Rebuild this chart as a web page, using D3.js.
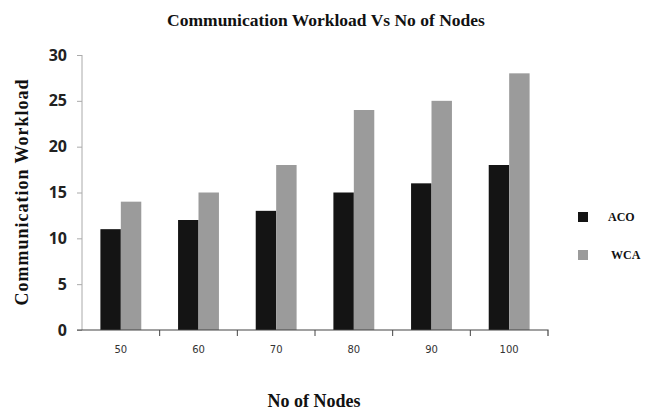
<!DOCTYPE html>
<html>
<head>
<meta charset="utf-8">
<script src="https://cdn.jsdelivr.net/npm/d3@7/dist/d3.min.js"></script>
<style>
  body { margin: 0; background: #fff; }
  .serif { font-family: "Liberation Serif", "DejaVu Serif", serif; }
</style>
</head>
<body>
<div id="chart"></div>
<script>

var nodes = ["50", "60", "70", "80", "90", "100"];
var series = ["ACO", "WCA"];
var aco = [11, 12, 13, 15, 16, 18];
var wca = [14, 15, 18, 24, 25, 28];
var yTicks = [0, 5, 10, 15, 20, 25, 30];
var colors = ["#141414", "#9b9b9b"];

var width = 651, height = 414;
var plotLeft = 82, plotRight = 548, plotTop = 55, plotBottom = 330;

var svg = d3.select("#chart").append("svg")
    .attr("width", width)
    .attr("height", height);

var x = d3.scaleBand()
    .domain(nodes)
    .range([plotLeft, plotRight])
    .paddingInner(0)
    .paddingOuter(0);

var x1 = d3.scaleBand()
    .domain(series)
    .range([0, x.bandwidth()])
    .paddingOuter(0.9);

var y = d3.scaleLinear()
    .domain([0, 30])
    .range([plotBottom, plotTop]);

// bars
var rows = nodes.map(function(n, i) {
    return {node: n, values: [aco[i], wca[i]]};
});

var groups = svg.append("g").selectAll("g")
    .data(rows)
    .enter().append("g")
    .attr("transform", function(d) { return "translate(" + x(d.node) + ",0)"; });

groups.selectAll("rect")
    .data(function(d) { return d.values.map(function(v, j) { return {key: series[j], value: v, j: j}; }); })
    .enter().append("rect")
    .attr("x", function(d) { return x1(d.key); })
    .attr("width", x1.bandwidth())
    .attr("y", function(d) { return y(d.value); })
    .attr("height", function(d) { return plotBottom - y(d.value); })
    .attr("fill", function(d) { return colors[d.j]; });

// y axis
var yAxis = svg.append("g")
    .attr("transform", "translate(" + plotLeft + ",0)")
    .call(d3.axisLeft(y).tickValues(yTicks).tickSize(5).tickPadding(10));
yAxis.select(".domain").attr("stroke", "#aaa").attr("d", "M0," + plotTop + "V" + plotBottom);
yAxis.selectAll(".tick line").attr("stroke", "#aaa");
yAxis.selectAll("text")
    .attr("font-family", "'Open Sans', 'DejaVu Sans', sans-serif")
    .attr("font-size", 16)
    .attr("font-weight", "bold")
    .attr("fill", "#222");

// x axis
var xAxis = svg.append("g")
    .attr("transform", "translate(0," + plotBottom + ")")
    .call(d3.axisBottom(x).tickSize(0).tickPadding(16));
xAxis.select(".domain").attr("stroke", "#444").attr("stroke-width", 1.2)
    .attr("d", "M" + (plotLeft - 5) + ",0H" + plotRight + "V6");
xAxis.selectAll("text")
    .attr("font-family", "'DejaVu Sans', sans-serif")
    .attr("font-size", 10)
    .attr("fill", "#333");

svg.append("g").selectAll("line")
    .data(nodes.slice(1))
    .enter().append("line")
    .attr("x1", function(d) { return x(d); })
    .attr("x2", function(d) { return x(d); })
    .attr("y1", plotBottom)
    .attr("y2", plotBottom + 6)
    .attr("stroke", "#444");

// titles
svg.append("text")
    .attr("class", "serif")
    .attr("x", 326)
    .attr("y", 26)
    .attr("text-anchor", "middle")
    .attr("font-size", 17.5)
    .attr("font-weight", "bold")
    .attr("fill", "#111")
    .text("Communication Workload Vs No of Nodes");

svg.append("text")
    .attr("class", "serif")
    .attr("x", 314)
    .attr("y", 407)
    .attr("text-anchor", "middle")
    .attr("font-size", 18)
    .attr("font-weight", "bold")
    .attr("fill", "#111")
    .text("No of Nodes");

svg.append("text")
    .attr("class", "serif")
    .attr("transform", "translate(28,192) rotate(-90)")
    .attr("text-anchor", "middle")
    .attr("font-size", 18)
    .attr("font-weight", "bold")
    .attr("letter-spacing", 1)
    .attr("fill", "#111")
    .text("Communication Workload");

// legend
var legend = svg.append("g").selectAll("g")
    .data(series)
    .enter().append("g")
    .attr("transform", function(d, i) { return "translate(578," + (212 + i * 38) + ")"; });

legend.append("rect")
    .attr("width", 10)
    .attr("height", 10)
    .attr("fill", function(d, i) { return colors[i]; });

legend.append("text")
    .attr("class", "serif")
    .attr("x", function(d, i) { return i ? 33 : 30; })
    .attr("y", 9)
    .attr("font-size", 12)
    .attr("font-weight", "bold")
    .attr("fill", "#111")
    .text(function(d) { return d; });
</script>
</body>
</html>
